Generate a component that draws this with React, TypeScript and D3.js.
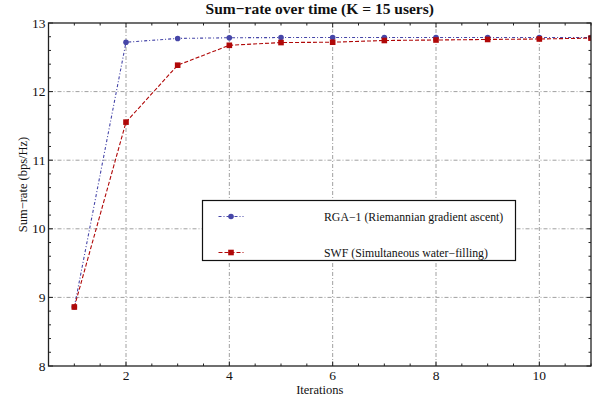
import React from "react";
import * as d3 from "d3";

// iteration index
const iterations = [1, 2, 3, 4, 5, 6, 7, 8, 9, 10, 11];
// RGA-1 (Riemannian gradient ascent)
const rgaValues = [8.86, 12.72, 12.775, 12.785, 12.788, 12.788, 12.789, 12.789, 12.789, 12.789, 12.789];
// SWF (Simultaneous water-filling)
const swfValues = [8.86, 11.555, 12.385, 12.675, 12.715, 12.72, 12.745, 12.752, 12.76, 12.767, 12.78];

const xMajorTicks = [2, 4, 6, 8, 10];
const yMajorTicks = [8, 9, 10, 11, 12, 13];

const title = "Sum\u2212rate over time (K = 15 users)";
const xLabel = "Iterations";
const yLabel = "Sum\u2212rate (bps/Hz)";
const legendLabels = ["RGA\u22121 (Riemannian gradient ascent)", "SWF (Simultaneous water\u2212filling)"];

const W = 598;
const H = 405;
const margin = { top: 23, right: 7, bottom: 39, left: 48.5 };
const FONT = "'Liberation Serif', 'Times New Roman', serif";

const BLUE = "#4646a8";
const RED = "#b00808";
const GRID = "#a0a0a0";
const FRAME = "#222";

export default function App() {
  const x = d3.scaleLinear().domain([0.5, 11]).range([margin.left, W - margin.right]);
  const y = d3.scaleLinear().domain([8, 13]).range([H - margin.bottom, margin.top]);

  const [x0, x1] = x.range();
  const [y0, y1] = y.range(); // y0 bottom, y1 top

  const xMinor = d3.range(1, 11.01, 0.5).filter((v) => !xMajorTicks.includes(v));
  const yMinor = d3.range(8.2, 12.99, 0.2).filter((v) => Math.abs(v - Math.round(v)) > 0.01);

  const line = d3
    .line<number>()
    .x((_, i) => x(iterations[i]))
    .y((d) => y(d));

  const series = [
    { name: legendLabels[0], values: rgaValues, color: BLUE, dash: "3,2,1,2", marker: "circle" },
    { name: legendLabels[1], values: swfValues, color: RED, dash: "4,2", marker: "square" },
  ];

  const marker = (kind: string, cx: number, cy: number, color: string, key: string | number) =>
    kind === "circle" ? (
      <circle key={key} cx={cx} cy={cy} r={2.8} fill={color} />
    ) : (
      <rect key={key} x={cx - 2.8} y={cy - 2.8} width={5.6} height={5.6} fill={color} />
    );

  // legend box
  const lg = { x: 202.5, y: 200.5, w: 313, h: 60 };

  return (
    <svg
      width={W}
      height={H}
      style={{ position: "absolute", left: 0, top: 0, background: "#fff" }}
      fontFamily={FONT}
    >
      <defs>
        <clipPath id="plot-clip">
          <rect x={x0} y={y1 - 5} width={x1 - x0} height={y0 - y1 + 10} />
        </clipPath>
      </defs>

      {/* grid */}
      {xMajorTicks.map((t) => (
        <line key={"gx" + t} x1={x(t)} x2={x(t)} y1={y0} y2={y1} stroke={GRID} strokeWidth={1} strokeDasharray="4,2,1,2" />
      ))}
      {yMajorTicks.slice(1, -1).map((t) => (
        <line key={"gy" + t} x1={x0} x2={x1} y1={y(t)} y2={y(t)} stroke={GRID} strokeWidth={1} strokeDasharray="4,2,1,2" />
      ))}

      {/* series */}
      <g clipPath="url(#plot-clip)">
        {series.map((s) => (
          <g key={s.name}>
            <path d={line(s.values) || ""} fill="none" stroke={s.color} strokeWidth={1.1} strokeDasharray={s.dash} />
            {s.values.map((v, i) => marker(s.marker, x(iterations[i]), y(v), s.color, i))}
          </g>
        ))}
      </g>

      {/* frame */}
      <rect x={x0} y={y1} width={x1 - x0} height={y0 - y1} fill="none" stroke={FRAME} strokeWidth={1.3} />

      {/* ticks */}
      <g stroke={FRAME} strokeWidth={1}>
        {xMajorTicks.map((t) => (
          <g key={"tx" + t}>
            <line x1={x(t)} x2={x(t)} y1={y0} y2={y0 - 4.5} />
            <line x1={x(t)} x2={x(t)} y1={y1} y2={y1 + 4.5} />
          </g>
        ))}
        {xMinor.map((t) => (
          <g key={"mx" + t}>
            <line x1={x(t)} x2={x(t)} y1={y0} y2={y0 - 2.5} />
            <line x1={x(t)} x2={x(t)} y1={y1} y2={y1 + 2.5} />
          </g>
        ))}
        {yMajorTicks.map((t) => (
          <g key={"ty" + t}>
            <line x1={x0} x2={x0 + 4.5} y1={y(t)} y2={y(t)} />
            <line x1={x1} x2={x1 - 4.5} y1={y(t)} y2={y(t)} />
          </g>
        ))}
        {yMinor.map((t) => (
          <g key={"my" + t}>
            <line x1={x0} x2={x0 + 2.5} y1={y(t)} y2={y(t)} />
            <line x1={x1} x2={x1 - 2.5} y1={y(t)} y2={y(t)} />
          </g>
        ))}
      </g>

      {/* tick labels */}
      <g fontSize={13.5} fill="#111">
        {xMajorTicks.map((t) => (
          <text key={"lx" + t} x={x(t)} y={y0 + 13.5} textAnchor="middle">
            {t}
          </text>
        ))}
        {yMajorTicks.map((t) => (
          <text key={"ly" + t} x={x0 - 3} y={y(t) + 4.5} textAnchor="end">
            {t}
          </text>
        ))}
      </g>

      {/* axis labels and title */}
      <text x={(x0 + x1) / 2} y={394} textAnchor="middle" fontSize={12.5} fill="#111">
        {xLabel}
      </text>
      <text transform={`translate(26.5, ${(y0 + y1) / 2 - 10}) rotate(-90)`} textAnchor="middle" fontSize={12.5} fill="#111">
        {yLabel}
      </text>
      <text x={(x0 + x1) / 2} y={14} textAnchor="middle" fontSize={15.5} fontWeight="bold" fill="#111">
        {title}
      </text>

      {/* legend */}
      <rect x={lg.x} y={lg.y} width={lg.w} height={lg.h} fill="#fff" stroke="#111" strokeWidth={1.2} />
      {series.map((s, i) => {
        const ly = lg.y + 16 + i * 36;
        return (
          <g key={"lg" + i}>
            <line x1={lg.x + 16} x2={lg.x + 41} y1={ly} y2={ly} stroke={s.color} strokeWidth={1.1} strokeDasharray={s.dash} />
            {marker(s.marker, lg.x + 28.5, ly, s.color, "m" + i)}
            <text x={lg.x + 121.5} y={ly + 4} fontSize={11.8} fill="#111">
              {s.name}
            </text>
          </g>
        );
      })}
    </svg>
  );
}
